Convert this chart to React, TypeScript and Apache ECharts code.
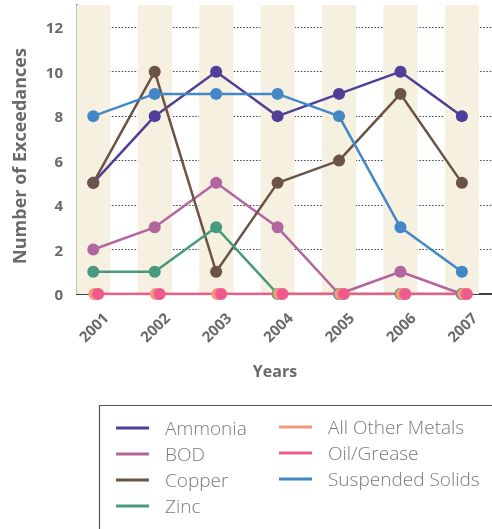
import React, { useEffect, useRef } from "react";
import * as echarts from "echarts";

const years = [2001, 2002, 2003, 2004, 2005, 2006, 2007];
const seriesNames = ["Ammonia", "BOD", "Copper", "Zinc", "All Other Metals", "Oil/Grease", "Suspended Solids"];
const ammonia = [5, 8, 10, 8, 9, 10, 8];
const bod = [2, 3, 5, 3, 0, 1, 0];
const copper = [5, 10, 1, 5, 6, 9, 5];
const zinc = [1, 1, 3, 0, 0, 0, 0];
const allOtherMetals = [0, 0, 0, 0, 0, 0, 0];
const oilGrease = [0, 0, 0, 0, 0, 0, 0];
const suspendedSolids = [8, 9, 9, 9, 8, 3, 1];
const yTicks = [0, 2, 4, 6, 8, 10, 12];

const colors = ["#4f3f98", "#b3669e", "#6b5446", "#479a7c", "#f4987a", "#ef5b8e", "#4487c7"];
// small horizontal dodge (in years) so overlapping zero lines stay visible
const dodge = [0, 0, 0, 0, 0.02, 0.08, 0];

export default function App() {
  const ref = useRef<HTMLDivElement>(null);
  useEffect(() => {
    if (!ref.current) return;
    const chart = echarts.init(ref.current, undefined, { renderer: "svg" });
    const values = [ammonia, bod, copper, zinc, allOtherMetals, oilGrease, suspendedSolids];
    const lineSeries = seriesNames.map((name, i) => ({
      name,
      type: "line",
      data: years.map((y, j) => [y + dodge[i], values[i][j]]),
      symbol: "circle",
      symbolSize: 12,
      lineStyle: { width: 2.5, color: colors[i] },
      itemStyle: { color: colors[i] },
      z: 3,
    }));
    const labelFont = { color: "#6a6a6a", fontFamily: "Open Sans", fontWeight: 700, fontSize: 15 };
    const legendText = { color: "#7a7a7a", fontFamily: "Open Sans", fontWeight: 300, fontSize: 19, lineHeight: 20, padding: [0, 0, 0, 11] };
    chart.setOption({
      animation: false,
      color: colors,
      grid: { left: 77, right: 0, top: 5, bottom: 235 },
      xAxis: {
        type: "value",
        min: 2000.735,
        max: 2007.49,
        axisLine: { show: true, lineStyle: { color: "#000", width: 1.5 } },
        axisTick: { show: false },
        splitLine: { show: false },
        axisLabel: {
          customValues: years,
          formatter: (v: number) => String(Math.round(v)),
          rotate: 45,
          align: "center",
          verticalAlign: "middle",
          margin: 33,
          ...labelFont,
        },
      },
      yAxis: {
        type: "value",
        min: 0,
        max: 13,
        axisLine: { show: true, lineStyle: { color: "#000", width: 1.5 } },
        axisTick: { show: false },
        axisLabel: {
          customValues: yTicks,
          margin: 14,
          padding: [0, 0, 7, 0],
          ...labelFont,
        },
        splitLine: {
          show: true,
          showMinLine: false,
          showMaxLine: false,
          lineStyle: { color: "#444", width: 1.2, type: [1.5, 1.7] },
        },
        interval: 2,
      },
      legend: [
        {
          data: seriesNames.slice(0, 4),
          orient: "vertical",
          left: 116,
          top: 418,
          padding: 0,
          icon: "rect",
          itemWidth: 33,
          itemHeight: 3,
          itemGap: 6,
          textStyle: legendText,
          selectedMode: false,
        },
        {
          data: seriesNames.slice(4),
          orient: "vertical",
          left: 279,
          top: 417,
          padding: 0,
          icon: "rect",
          itemWidth: 33,
          itemHeight: 3,
          itemGap: 6,
          textStyle: legendText,
          selectedMode: false,
        },
      ],
      graphic: [
        {
          type: "rect",
          shape: { x: 99.5, y: 405.5, width: 500, height: 200 },
          style: { fill: "none", stroke: "#555", lineWidth: 1.2 },
          silent: true,
        },
        {
          type: "text",
          x: 19,
          y: 156,
          rotation: Math.PI / 2,
          style: {
            text: "Number of Exceedances",
            align: "center",
            verticalAlign: "middle",
            fill: "#6a6a6a",
            font: "700 18px 'Open Sans'",
          },
        },
        {
          type: "text",
          x: 275,
          y: 371,
          style: {
            text: "Years",
            align: "center",
            verticalAlign: "middle",
            fill: "#6a6a6a",
            font: "700 16px 'Open Sans'",
          },
        },
      ],
      series: [
        {
          name: "stripes",
          type: "bar",
          data: years.map((y) => [y, 13]),
          barWidth: 34,
          itemStyle: { color: "#f6f0e1" },
          silent: true,
          z: 1,
        },
        ...lineSeries,
      ],
    });
    return () => chart.dispose();
  }, []);
  return <div ref={ref} style={{ position: "fixed", left: 0, top: 0, width: 492, height: 529 }} />;
}
